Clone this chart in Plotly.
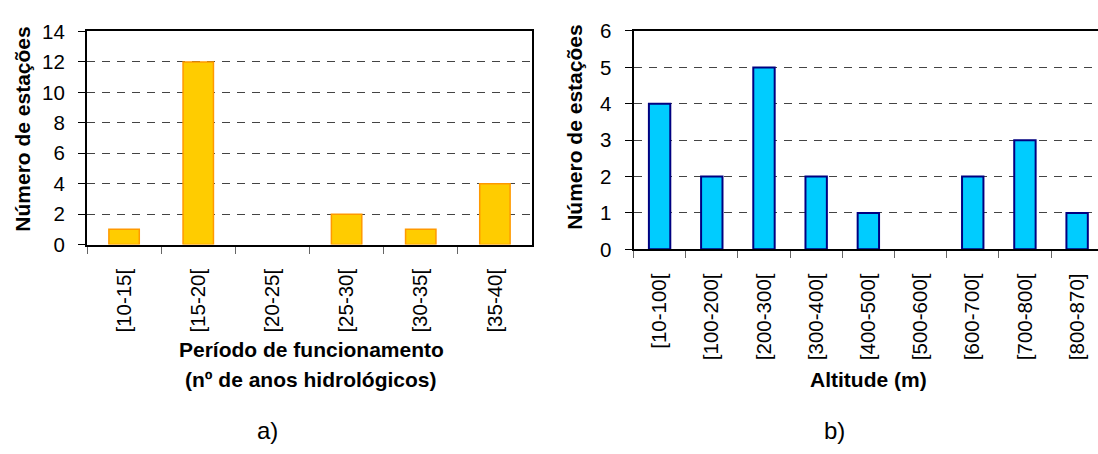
import plotly.graph_objects as go

# Panel a) - operating period of the stations
periodo_cats = ["[10-15[", "[15-20[", "[20-25[", "[25-30[", "[30-35[", "[35-40["]
periodo_vals = [1, 12, 0, 2, 1, 4]

# Panel b) - station altitude
altitude_cats = ["[10-100[", "[100-200[", "[200-300[", "[300-400[", "[400-500[",
                 "[500-600[", "[600-700[", "[700-800[", "[800-870]"]
altitude_vals = [4, 2, 5, 2, 1, 0, 2, 3, 1]

W, H = 1098, 454
FONT = "Liberation Sans, Arial, sans-serif"


def px_x(p):
    return p / W


def px_y(p):
    return 1 - p / H


def bars(vals):
    # empty classes get no outline at the baseline
    return [v if v else None for v in vals]


fig = go.Figure()
fig.add_trace(go.Bar(
    x=periodo_cats, y=bars(periodo_vals), width=0.41,
    marker=dict(color="#FFCC00", line=dict(color="#FF9900", width=1.5)),
    xaxis="x", yaxis="y", showlegend=False,
))
fig.add_trace(go.Bar(
    x=altitude_cats, y=bars(altitude_vals), width=0.41,
    marker=dict(color="#00CCFF", line=dict(color="#000080", width=2)),
    xaxis="x2", yaxis="y2", showlegend=False,
))

tick_font_y = dict(family=FONT, size=20.5, color="#000000")
tick_font_x = dict(family=FONT, size=20.5, color="#000000")
grid = dict(showgrid=True, gridcolor="#444444", gridwidth=1, griddash="8px,7px")

xcommon = dict(
    type="category", showline=True, linecolor="#000000", linewidth=2,
    mirror=True, ticks="outside", ticklen=7, tickcolor="#666666",
    tickson="boundaries", tickangle=-90, tickfont=tick_font_x,
    showgrid=False, zeroline=False, fixedrange=True, ticklabelstandoff=14,
)
ycommon = dict(
    showline=True, linecolor="#000000", linewidth=2,
    ticks="outside", ticklen=7, tickcolor="#000000",
    tickfont=tick_font_y, zeroline=False, fixedrange=True,
    ticklabelstandoff=9, **grid,
)

fig.update_layout(
    width=W, height=H,
    margin=dict(l=0, r=0, t=0, b=0),
    paper_bgcolor="#FFFFFF", plot_bgcolor="#FFFFFF",
    bargap=0.59,
    xaxis=dict(domain=[px_x(87), px_x(532)], anchor="y",
               range=[-0.5, 5.5], **xcommon),
    yaxis=dict(domain=[px_y(245), px_y(20.5)], anchor="x",
               range=[0, 14], dtick=2, mirror=True, **ycommon),
    xaxis2=dict(domain=[px_x(633.5), 1.0], anchor="y2",
                range=[-0.5, 8.4], **xcommon),
    yaxis2=dict(domain=[px_y(250), px_y(20)], anchor="x2",
                range=[0, 6], dtick=1, mirror=False, **ycommon),
)

title_font = dict(family=FONT, size=21, color="#000000")
annotations = [
    dict(text="Número de estações", x=px_x(23), y=px_y(124), textangle=-90),
    dict(text="Número de estações", x=px_x(575), y=px_y(122), textangle=-90),
    dict(text="Período de funcionamento", x=px_x(311), y=px_y(355)),
    dict(text="(nº de anos hidrológicos)", x=px_x(311), y=px_y(387)),
    dict(text="Altitude (m)", x=px_x(868), y=px_y(387)),
]
for a in annotations:
    fig.add_annotation(xref="paper", yref="paper", showarrow=False,
                       xanchor="center", yanchor="middle",
                       text="<b>%s</b>" % a["text"], x=a["x"], y=a["y"],
                       textangle=a.get("textangle", 0), font=title_font)

for lab, cx in (("a)", 267), ("b)", 834)):
    fig.add_annotation(xref="paper", yref="paper", showarrow=False,
                       xanchor="center", yanchor="middle", text=lab,
                       x=px_x(cx), y=px_y(441),
                       font=dict(family=FONT, size=24, color="#000000"))

fig.write_html("out.html")
